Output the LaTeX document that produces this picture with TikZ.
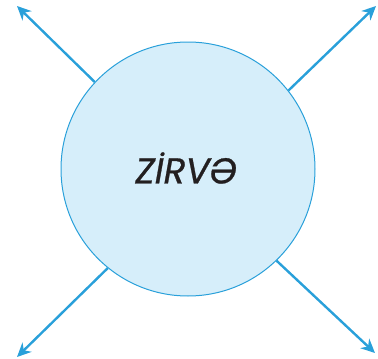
\documentclass[tikz,border=0pt]{standalone}
\usepackage{fontspec}
\setsansfont{Poppins}
\usetikzlibrary{arrows.meta}
\definecolor{cblue}{HTML}{29A0DA}
\definecolor{cfill}{HTML}{D6EEFA}
\definecolor{ctext}{HTML}{231F20}
\tikzset{
  bigcircle/.style={circle, draw=cblue, fill=cfill, line width=1pt, minimum size=254pt, inner sep=0pt},
  outarrow/.style={draw=cblue, line width=2.4pt, -{Stealth[length=14pt,width=13pt,inset=4.5pt]}},
  word/.style={font=\sffamily\itshape\fontsize{36}{40}\selectfont\addfontfeature{FakeBold=0.7}, text=ctext}
}
\begin{document}
\begin{tikzpicture}[x=1pt,y=-1pt]
\useasboundingbox (0,0) rectangle (378,359);
\node[bigcircle] (c) at (188,169) {};
\node[word] (t) at (186,168) {ZİRVƏ};
\coordinate (tl) at (17,6);
\coordinate (tr) at (376,6);
\coordinate (bl) at (17,357);
\coordinate (br) at (375,353);
\draw[outarrow] (c.137.5) -- (tl);
\draw[outarrow] (c.38) -- (tr);
\draw[outarrow] (c.231) -- (bl);
\draw[outarrow] (c.314) -- (br);
\end{tikzpicture}
\end{document}
